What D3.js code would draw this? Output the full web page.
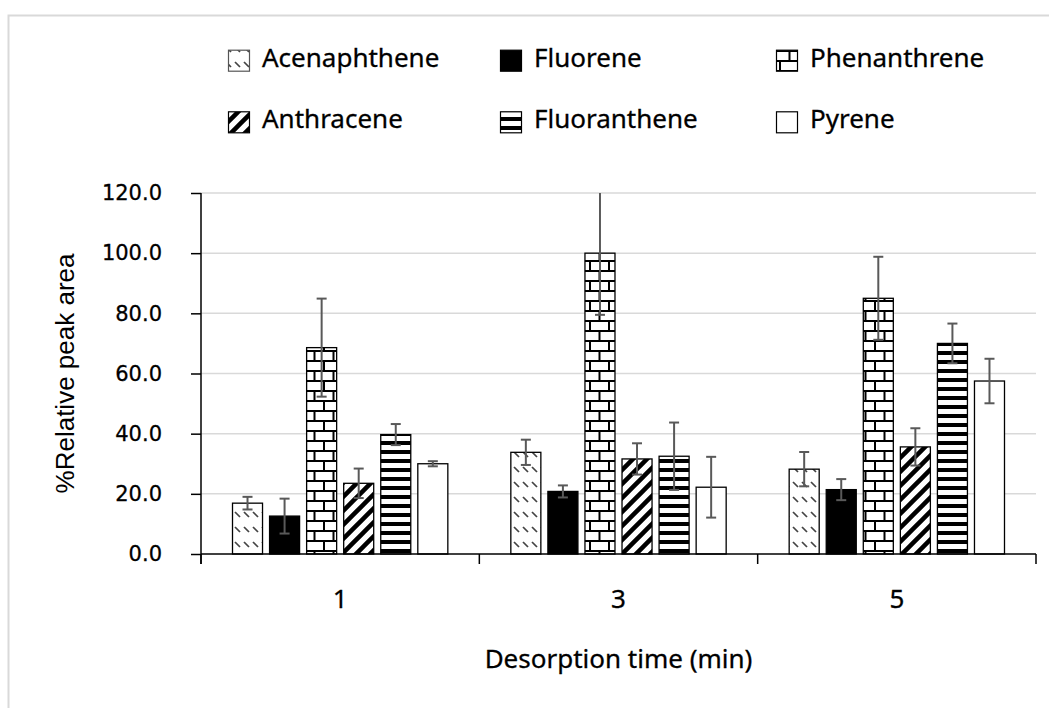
<!DOCTYPE html>
<html>
<head>
<meta charset="utf-8">
<script src="https://cdn.jsdelivr.net/npm/d3@7"></script>
<style>
  html, body { margin: 0; padding: 0; background: #fff; }
  svg { display: block; }
</style>
</head>
<body>
<div id="chart"></div>
<script>
// Desorption times (x categories)
const categories = ["1", "3", "5"];
const seriesNames = ["Acenaphthene", "Fluorene", "Phenanthrene", "Anthracene", "Fluoranthene", "Pyrene"];

// Mean %relative peak area per desorption time
const acenaphthene = [16.9, 33.8, 28.2];
const fluorene     = [12.6, 20.8, 21.4];
const phenanthrene = [68.6, 100.0, 85.0];
const anthracene   = [23.5, 31.6, 35.6];
const fluoranthene = [39.7, 32.5, 70.0];
const pyrene       = [30.0, 22.2, 57.5];

// Standard deviations
const acenaphtheneErr = [2.1, 4.2, 5.7];
const fluoreneErr     = [5.8, 2.0, 3.5];
const phenanthreneErr = [16.3, 20.5, 13.8];
const anthraceneErr   = [4.9, 5.2, 6.2];
const fluorantheneErr = [3.5, 11.2, 6.6];
const pyreneErr       = [0.85, 10.1, 7.4];

const yTicks = [0, 20, 40, 60, 80, 100, 120];

const seriesValues = [acenaphthene, fluorene, phenanthrene, anthracene, fluoranthene, pyrene];
const seriesErrors = [acenaphtheneErr, fluoreneErr, phenanthreneErr, anthraceneErr, fluorantheneErr, pyreneErr];
const fills = ["url(#pAce)", "#000", "url(#pBrick)", "url(#pWideUp)", "url(#pHoriz)", "#fff"];

const W = 1049, H = 708;
const plot = { left: 201, right: 1036, top: 193, bottom: 554 };

const svg = d3.select("#chart").append("svg")
  .attr("width", W).attr("height", H);

// ---- fill patterns ----
const defs = svg.append("defs");

// dashed downward diagonal
const pAce = defs.append("pattern").attr("id", "pAce")
  .attr("patternUnits", "userSpaceOnUse").attr("width", 9).attr("height", 15);
pAce.append("rect").attr("width", 9).attr("height", 15).attr("fill", "#fff");
pAce.append("path").attr("d", "M1,2 L6,7").attr("stroke", "#444").attr("stroke-width", 1.7);

// horizontal brick
const pBrick = defs.append("pattern").attr("id", "pBrick")
  .attr("patternUnits", "userSpaceOnUse").attr("width", 19).attr("height", 20);
pBrick.append("rect").attr("width", 19).attr("height", 20).attr("fill", "#fff");
pBrick.append("path")
  .attr("d", "M0,1 H19 M0,11 H19 M1,1 V11 M10.5,11 V21")
  .attr("stroke", "#000").attr("stroke-width", 2).attr("fill", "none");

// wide upward diagonal
const pWide = defs.append("pattern").attr("id", "pWideUp")
  .attr("patternUnits", "userSpaceOnUse").attr("width", 14).attr("height", 14);
pWide.append("rect").attr("width", 14).attr("height", 14).attr("fill", "#fff");
pWide.append("path")
  .attr("d", "M-3,3 L3,-3 M0,14 L14,0 M11,17 L17,11")
  .attr("stroke", "#000").attr("stroke-width", 4.5);

// dark horizontal
const pHoriz = defs.append("pattern").attr("id", "pHoriz")
  .attr("patternUnits", "userSpaceOnUse").attr("width", 9).attr("height", 9);
pHoriz.append("rect").attr("width", 9).attr("height", 9).attr("fill", "#fff");
pHoriz.append("rect").attr("y", 0).attr("width", 9).attr("height", 4).attr("fill", "#000");

defs.append("clipPath").attr("id", "plotClip")
  .append("rect").attr("x", plot.left - 20).attr("y", plot.top)
  .attr("width", plot.right - plot.left + 40).attr("height", plot.bottom - plot.top + 1);

// ---- outer frame ----
svg.append("rect")
  .attr("x", 8.5).attr("y", 15.5).attr("width", 1200).attr("height", 900)
  .attr("fill", "none").attr("stroke", "#d9d9d9").attr("stroke-width", 2);

// ---- scales ----
const x0 = d3.scaleBand().domain(categories).range([plot.left, plot.right]).padding(0);
const x1 = d3.scaleBand().domain(seriesNames).range([0, x0.bandwidth()])
  .paddingInner(0.19).paddingOuter(0.85);
const y = d3.scaleLinear().domain([0, 120]).range([plot.bottom, plot.top]);

// ---- gridlines ----
svg.append("g").selectAll("line").data(yTicks.filter(d => d > 0)).join("line")
  .attr("x1", plot.left).attr("x2", plot.right)
  .attr("y1", d => y(d)).attr("y2", d => y(d))
  .attr("stroke", "#d9d9d9").attr("stroke-width", 1.5);

// ---- bars ----
const barsG = svg.append("g").attr("clip-path", "url(#plotClip)");
seriesNames.forEach((name, si) => {
  const g = barsG.append("g");
  g.selectAll("rect").data(categories.map((c, ci) => ({ c, v: seriesValues[si][ci] }))).join("rect")
    .attr("x", d => x0(d.c) + x1(name))
    .attr("y", d => y(d.v))
    .attr("width", x1.bandwidth())
    .attr("height", d => y(0) - y(d.v))
    .attr("fill", fills[si])
    .attr("stroke", "#000").attr("stroke-width", 1.3);
});

// ---- error bars ----
seriesNames.forEach((name, si) => {
  const g = barsG.append("g").attr("stroke", "#595959").attr("stroke-width", 2);
  categories.forEach((c, ci) => {
    const cx = x0(c) + x1(name) + x1.bandwidth() / 2;
    const v = seriesValues[si][ci], e = seriesErrors[si][ci];
    g.append("line").attr("x1", cx).attr("x2", cx).attr("y1", y(v + e)).attr("y2", y(v - e));
    g.append("line").attr("x1", cx - 5).attr("x2", cx + 5).attr("y1", y(v + e)).attr("y2", y(v + e));
    g.append("line").attr("x1", cx - 5).attr("x2", cx + 5).attr("y1", y(v - e)).attr("y2", y(v - e));
  });
});

// ---- y axis ----
const yAxis = svg.append("g").attr("transform", `translate(${plot.left},0)`)
  .call(d3.axisLeft(y).tickValues(yTicks).tickFormat(d3.format(".1f")).tickSize(10).tickSizeOuter(0));
yAxis.select(".domain").attr("stroke", "#000").attr("stroke-width", 1.5)
  .attr("d", `M0,${plot.top}V${plot.bottom + 10}`);
yAxis.selectAll(".tick line").attr("stroke", "#000").attr("stroke-width", 1.5);
yAxis.selectAll(".tick text")
  .attr("x", -39)
  .attr("font-family", "'DejaVu Sans', sans-serif").attr("font-size", 21)
  .attr("fill", "#000").attr("stroke", "#000").attr("stroke-width", 0.3);

// ---- x axis ----
const xAxisG = svg.append("g").attr("transform", `translate(0,${plot.bottom})`);
xAxisG.append("line").attr("x1", plot.left).attr("x2", plot.right)
  .attr("stroke", "#000").attr("stroke-width", 1.5);
xAxisG.selectAll("line.tk").data(categories.concat(["end"])).join("line").attr("class", "tk")
  .attr("x1", d => d === "end" ? plot.right : x0(d))
  .attr("x2", d => d === "end" ? plot.right : x0(d))
  .attr("y1", 0).attr("y2", 10)
  .attr("stroke", "#000").attr("stroke-width", 1.5);
xAxisG.selectAll("text").data(categories).join("text")
  .attr("x", d => x0(d) + x0.bandwidth() / 2)
  .attr("y", 54)
  .attr("text-anchor", "middle")
  .attr("font-family", "'Noto Sans', sans-serif").attr("font-size", 26)
  .attr("stroke", "#000").attr("stroke-width", 0.3)
  .text(d => d);

// ---- axis titles ----
svg.append("text")
  .attr("x", (plot.left + plot.right) / 2).attr("y", 668)
  .attr("text-anchor", "middle")
  .attr("font-family", "'Noto Sans', sans-serif").attr("font-size", 26)
  .attr("stroke", "#000").attr("stroke-width", 0.3)
  .text("Desorption time (min)");

svg.append("text")
  .attr("transform", `translate(74,${(plot.top + plot.bottom) / 2}) rotate(-90)`)
  .attr("text-anchor", "middle")
  .attr("font-family", "'Liberation Sans', Arial, sans-serif").attr("font-size", 26)
  .text("%Relative peak area");

// ---- legend ----
const legendCols = [228, 500, 776];
const legendRows = [66.7, 128.3];
const legend = svg.append("g");
seriesNames.forEach((name, i) => {
  const col = i % 3, row = Math.floor(i / 3);
  const lx = legendCols[col], ly = legendRows[row];
  legend.append("rect")
    .attr("x", lx + 0.5).attr("y", ly - 16.5).attr("width", 21).attr("height", 21)
    .attr("fill", fills[i])
    .attr("stroke", i === 0 ? "#555" : "#000").attr("stroke-width", 1.2);
  legend.append("text")
    .attr("x", lx + 34).attr("y", ly)
    .attr("font-family", "'Noto Sans', sans-serif").attr("font-size", 26)
    .attr("stroke", "#000").attr("stroke-width", 0.3)
    .text(name);
});
</script>
</body>
</html>
